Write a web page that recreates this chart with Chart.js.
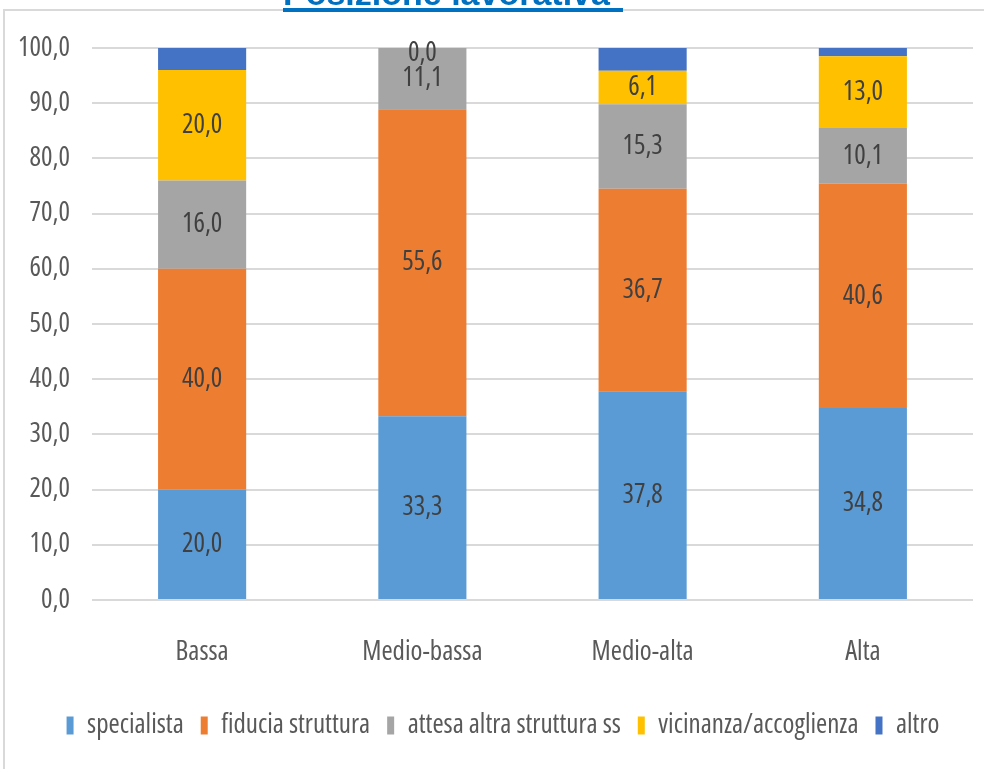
<!DOCTYPE html>
<html>
<head>
<meta charset="utf-8">
<script src="https://cdn.jsdelivr.net/npm/chart.js@4"></script>
<style>
  html, body { margin: 0; padding: 0; background: #fff; overflow: hidden; }
  #wrap { position: relative; width: 984px; height: 769px; }
  #cornice { position: absolute; left: 3px; top: 9px; width: 1000px; height: 800px; border: 2px solid #d9d9d9; }
  #titolo { position: absolute; left: 283px; top: -22px; width: 340px; text-align: left;
            font: bold 34px "Liberation Sans", Arial, sans-serif; color: #0070C0;
            line-height: 30px; border-bottom: 4px solid #0070C0; white-space: nowrap; }
  #grafico { position: absolute; left: 0; top: 0; }
</style>
</head>
<body>
<div id="wrap">
  <div id="cornice"></div>
  <canvas id="grafico" width="984" height="769"></canvas>
  <div id="titolo">Posizione lavorativa</div>
</div>
<script>
const categorie = ['Bassa', 'Medio-bassa', 'Medio-alta', 'Alta'];
const specialista = [20.0, 33.3, 37.8, 34.8];
const fiducia = [40.0, 55.6, 36.7, 40.6];
const attesa = [16.0, 11.1, 15.3, 10.1];
const vicinanza = [20.0, 0.0, 6.1, 13.0];
const altro = [4.0, 0.0, 4.1, 1.5];
const tickY = [0, 10, 20, 30, 40, 50, 60, 70, 80, 90, 100];

// Open Sans stretta (condensed) al posto del Calibri
const famiglia = '"Open Sans", sans-serif';
const carattere = { family: famiglia, size: 27, weight: '400 condensed' };
const virgola = v => Number(v).toFixed(1).replace('.', ',');

// etichette dentro le barre (niente per "altro")
const etichette = {
  id: 'etichette',
  afterLayout(chart) {
    // l'asse y parte dal bordo, così le etichette non vengono tagliate
    chart.scales.y.left = 0;
  },
  afterDatasetsDraw(chart) {
    const ctx = chart.ctx;
    ctx.save();
    ctx.font = '400 condensed 27px ' + famiglia;
    ctx.fillStyle = '#404040';
    ctx.textAlign = 'center';
    ctx.textBaseline = 'middle';
    chart.data.datasets.forEach((ds, i) => {
      if (ds.label === 'altro') return;
      chart.getDatasetMeta(i).data.forEach((el, j) => {
        const v = ds.data[j];
        if (v === 0 && ds.label !== 'vicinanza/accoglienza') return;
        const y = (el.y + el.base) / 2;
        ctx.fillText(virgola(v), el.x, v === 0 ? y + 5 : y);
      });
    });
    ctx.restore();
  }
};

const ctx = document.querySelector('#grafico');
new Chart(ctx, {
  type: 'bar',
  data: {
    labels: categorie,
    datasets: [
      { label: 'specialista', data: specialista, backgroundColor: '#5B9BD5' },
      { label: 'fiducia struttura', data: fiducia, backgroundColor: '#ED7D31' },
      { label: 'attesa altra struttura ss', data: attesa, backgroundColor: '#A5A5A5' },
      { label: 'vicinanza/accoglienza', data: vicinanza, backgroundColor: '#FFC000' },
      { label: 'altro', data: altro, backgroundColor: '#4472C4' }
    ]
  },
  options: {
    responsive: false,
    animation: false,
    events: [],
    categoryPercentage: 1,
    barPercentage: 0.4,
    layout: { padding: { left: 33, right: 11, top: 48, bottom: 20 } },
    scales: {
      x: {
        stacked: true,
        grid: { display: false },
        border: { display: false },
        ticks: { color: '#595959', font: carattere, padding: 28 },
        afterFit: s => { s.height = 95; }
      },
      y: {
        stacked: true,
        min: 0,
        max: 100,
        afterBuildTicks: s => { s.ticks = tickY.map(v => ({ value: v })); },
        grid: { color: '#d9d9d9', lineWidth: 2, drawTicks: false },
        border: { display: false },
        ticks: { color: '#595959', font: carattere, padding: 22, callback: v => virgola(v) },
        afterFit: s => { s.width = 59; }
      }
    },
    plugins: {
      legend: {
        position: 'bottom',
        labels: { color: '#595959', font: carattere, boxWidth: 7, boxHeight: 18, padding: 17 }
      },
      tooltip: { enabled: false },
      title: { display: false }
    }
  },
  plugins: [etichette]
});
</script>
</body>
</html>
